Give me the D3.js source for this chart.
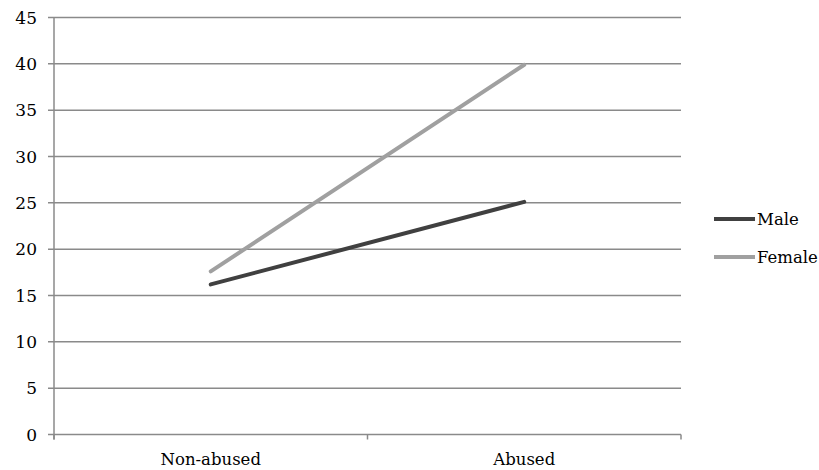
<!DOCTYPE html>
<html><head><meta charset="utf-8">
<script src="https://cdn.jsdelivr.net/npm/d3@7"></script>
<style>body{margin:0;background:#fff}svg{display:block}text{font-family:"DejaVu Serif","Liberation Serif",serif;fill:#000}</style>
</head><body><svg id="c" width="819" height="470"></svg>
<script>
const categories = ["Non-abused", "Abused"];
const seriesNames = ["Male", "Female"];
const maleValues = [16.2, 25.1];
const femaleValues = [17.6, 39.9];
const yTicks = [0, 5, 10, 15, 20, 25, 30, 35, 40, 45];

const svg = d3.select("#c");
const L = 54, R = 681, T = 17.5, B = 434.5;
const x = d3.scaleBand().domain(categories).range([L, R]);
const y = d3.scaleLinear().domain([0, 45]).range([B, T]);
const gridColor = "#8a8a8a";

// gridlines
svg.append("g").selectAll("line").data(yTicks).join("line")
  .attr("x1", L - 6).attr("x2", R).attr("y1", d => y(d)).attr("y2", d => y(d))
  .attr("stroke", gridColor).attr("stroke-width", 1.5);
// y axis line
svg.append("line").attr("x1", L).attr("x2", L).attr("y1", T).attr("y2", B + 5)
  .attr("stroke", gridColor).attr("stroke-width", 1.5);
// y labels
svg.append("g").selectAll("text").data(yTicks).join("text")
  .attr("x", L - 17).attr("y", d => y(d)).attr("dy", "0.36em").attr("text-anchor", "end")
  .attr("font-size", 17).text(d => d);
// x ticks
const xb = [L, L + x.bandwidth(), R];
svg.append("g").selectAll("line").data(xb).join("line")
  .attr("x1", d => d).attr("x2", d => d).attr("y1", B).attr("y2", B + 5)
  .attr("stroke", gridColor).attr("stroke-width", 1.5);
svg.append("g").selectAll("text").data(categories).join("text")
  .attr("x", d => x(d) + x.bandwidth() / 2).attr("y", 465).attr("text-anchor", "middle")
  .attr("font-size", 16.5).text(d => d);

const series = [
  {name: seriesNames[0], values: maleValues, color: "#404040"},
  {name: seriesNames[1], values: femaleValues, color: "#a0a0a0"}
];
const line = d3.line().x((d, i) => x(categories[i]) + x.bandwidth() / 2).y(d => y(d));
svg.append("g").selectAll("path").data(series).join("path")
  .attr("d", d => line(d.values)).attr("fill", "none")
  .attr("stroke", d => d.color).attr("stroke-width", 4).attr("stroke-linecap", "round");

// legend
const lg = svg.append("g").selectAll("g").data(series).join("g")
  .attr("transform", (d, i) => `translate(714,${219 + i * 38})`);
lg.append("line").attr("x1", 0).attr("x2", 41).attr("y1", 0).attr("y2", 0)
  .attr("stroke", d => d.color).attr("stroke-width", 4);
lg.append("text").attr("x", 43).attr("y", 0).attr("dy", "0.36em").attr("font-size", 16.5).text(d => d.name);
</script></body></html>
